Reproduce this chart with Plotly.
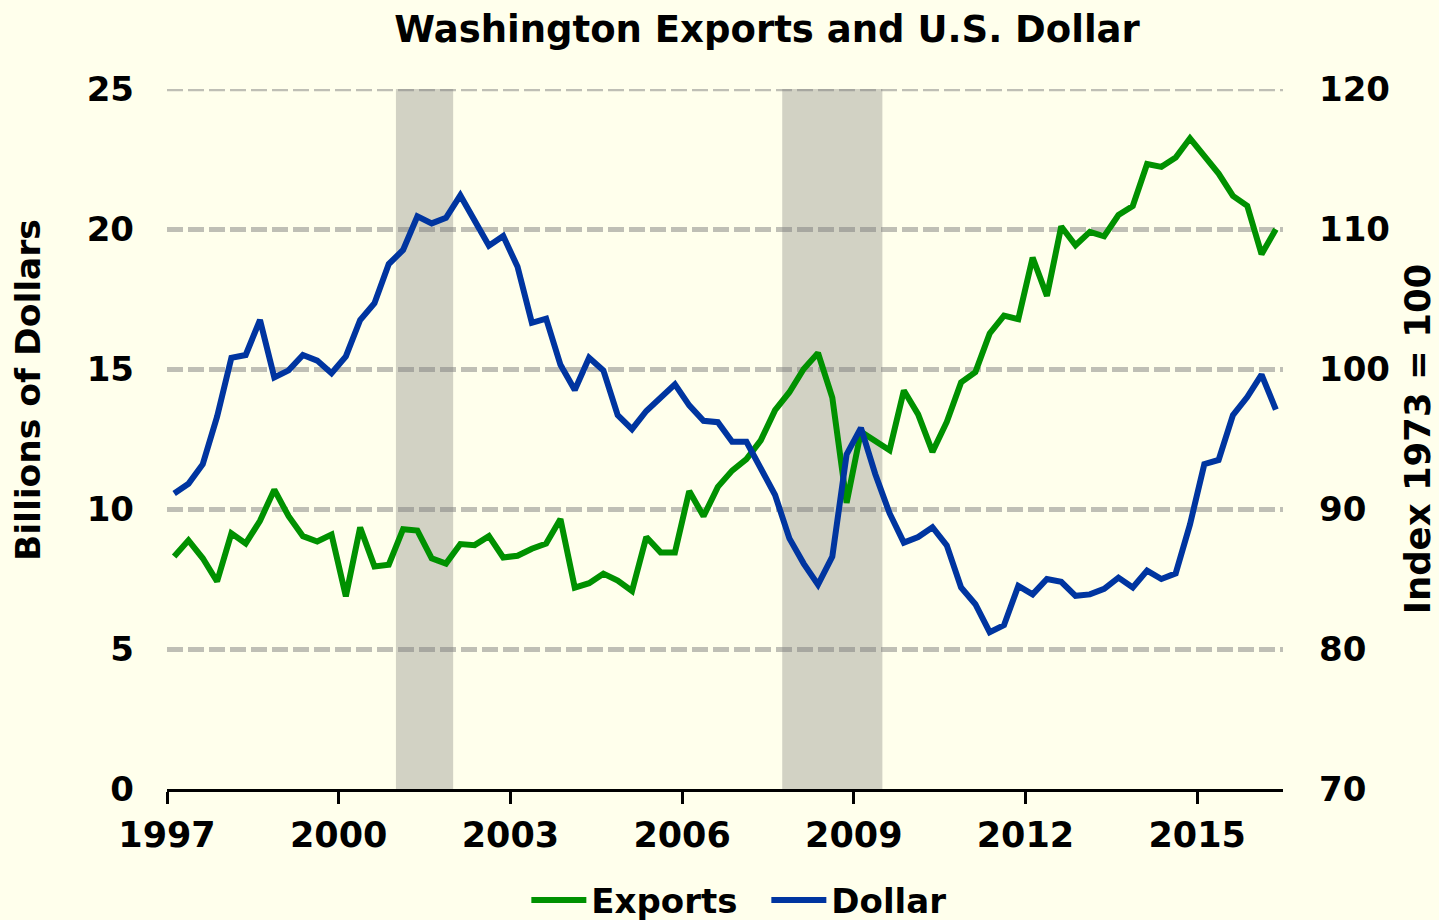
import plotly.graph_objects as go

# ── Data (quarterly, 1997Q1 – 2016Q2) ─────────────────────────────────────────
START_YEAR = 1997
exports = [
    8.30, 8.88, 8.24, 7.41, 9.13, 8.77, 9.58, 10.69, 9.74, 9.03,
    8.84, 9.09, 6.88, 9.34, 7.95, 8.01, 9.28, 9.23, 8.24, 8.05,
    8.75, 8.71, 9.03, 8.27, 8.33, 8.58, 8.77, 9.64, 7.19, 7.35,
    7.69, 7.44, 7.07, 9.00, 8.45, 8.45, 10.64, 9.74, 10.79, 11.37,
    11.78, 12.45, 13.53, 14.17, 15.00, 15.57, 13.98, 10.22, 12.76, 12.45,
    12.10, 14.23, 13.38, 12.04, 13.11, 14.52, 14.89, 16.27, 16.91, 16.78,
    18.98, 17.61, 20.09, 19.42, 19.90, 19.74, 20.50, 20.82, 22.32, 22.22,
    22.55, 23.24, 22.64, 21.98, 21.18, 20.83, 19.10, 19.99,
]
dollar = [
    91.1, 91.8, 93.2, 96.6, 100.8, 101.0, 103.5, 99.4, 99.9, 101.0,
    100.6, 99.7, 100.9, 103.5, 104.7, 107.5, 108.5, 110.9, 110.4, 110.8,
    112.4, 110.6, 108.8, 109.5, 107.3, 103.3, 103.6, 100.3, 98.5, 100.8,
    99.9, 96.7, 95.7, 97.0, 98.0, 98.9, 97.4, 96.3, 96.2, 94.8,
    94.8, 92.9, 91.0, 87.9, 86.1, 84.6, 86.6, 93.9, 95.8, 92.5,
    89.7, 87.6, 88.0, 88.7, 87.4, 84.4, 83.2, 81.2, 81.7, 84.5,
    83.9, 85.0, 84.8, 83.8, 83.9, 84.3, 85.1, 84.4, 85.6, 85.0,
    85.4, 88.9, 93.2, 93.5, 96.7, 98.0, 99.6, 97.1,
]
recessions = [(2001.0, 2002.0), (2007.75, 2009.5)]
year_ticks = [1997, 2000, 2003, 2006, 2009, 2012, 2015]
left_ticks = [0, 5, 10, 15, 20, 25]
right_ticks = [70, 80, 90, 100, 110, 120]

# quarter mid-points as decimal years
quarters = [START_YEAR + (k + 0.5) / 4 for k in range(len(exports))]

# ── Palette ───────────────────────────────────────────────────────────────────
COLORS = {
    "bg":     "#FFFFEC",
    "shade":  "#D2D2C4",
    "green":  "#009100",
    "blue":   "#0035A0",
    "grid":   "rgba(120,120,120,0.47)",
    "text":   "#000000",
}
FONT = "DejaVu Sans"
GRID_DASH = "16px,5px"

fig = go.Figure()

fig.add_trace(go.Scatter(
    x=quarters, y=exports, name="<b>Exports</b>", mode="lines",
    line=dict(color=COLORS["green"], width=6),
))
fig.add_trace(go.Scatter(
    x=quarters, y=dollar, name="<b>Dollar</b>", mode="lines", yaxis="y2",
    line=dict(color=COLORS["blue"], width=6),
))

# ── Recession bands ───────────────────────────────────────────────────────────
for x0, x1 in recessions:
    fig.add_vrect(x0=x0, x1=x1, fillcolor=COLORS["shade"], opacity=1,
                  line_width=0, layer="below")

# top gridline (plotly drops the one sitting on the range edge)
fig.add_hline(y=left_ticks[-1], line_color=COLORS["grid"], line_width=4.5,
              line_dash=GRID_DASH, layer="below")

# left axis title sits above centre in the original
fig.add_annotation(
    text="<b>Billions of Dollars</b>", textangle=-90,
    xref="paper", yref="paper", x=-0.1245, y=0.57,
    xanchor="center", yanchor="middle", showarrow=False,
    font=dict(size=34.5),
)

fig.update_layout(
    width=1439, height=920,
    paper_bgcolor=COLORS["bg"],
    plot_bgcolor=COLORS["bg"],
    margin=dict(l=167, r=156, t=89, b=131, autoexpand=False),
    font=dict(family=FONT, size=34, color=COLORS["text"]),
    title=dict(
        text="<b>Washington Exports and U.S. Dollar</b>",
        x=0.533, xanchor="center", yref="container", y=0.968, yanchor="middle",
        font=dict(size=37),
    ),
    showlegend=True,
    legend=dict(
        orientation="h", x=0.322, xanchor="left", y=-0.159, yanchor="middle",
        bgcolor="rgba(0,0,0,0)", font=dict(size=34), itemwidth=55,
        entrywidth=170, entrywidthmode="pixels",
    ),
    xaxis=dict(
        range=[1997, 2016.5], tickvals=year_ticks,
        ticktext=[f"<b>{y}</b>" for y in year_ticks],
        showgrid=False, zeroline=False,
        showline=True, linecolor="black", linewidth=3,
        ticks="outside", ticklen=12, tickwidth=3, tickcolor="black",
        tickfont=dict(size=35), ticklabelstandoff=1,
    ),
    yaxis=dict(
        range=[0, 25], tickvals=left_ticks,
        ticktext=[f"<b>{v}</b>" for v in left_ticks],
        showgrid=True, gridcolor=COLORS["grid"], gridwidth=4.5,
        griddash=GRID_DASH, zeroline=False, showline=False,
        ticks="", ticklabelstandoff=32, tickfont=dict(size=34),
    ),
    yaxis2=dict(
        range=[70, 120], tickvals=right_ticks,
        ticktext=[f"<b>{v}</b>" for v in right_ticks],
        overlaying="y", side="right",
        showgrid=False, zeroline=False, showline=False,
        ticks="", ticklabelstandoff=35, tickfont=dict(size=34),
        title=dict(text="<b>Index 1973 = 100</b>", standoff=16,
                   font=dict(size=35.5)),
    ),
)

fig.write_html(
    "out.html",
    config={"displayModeBar": False},
    post_script="document.body.style.margin='0';document.body.style.background='#FFFFEC';",
)
